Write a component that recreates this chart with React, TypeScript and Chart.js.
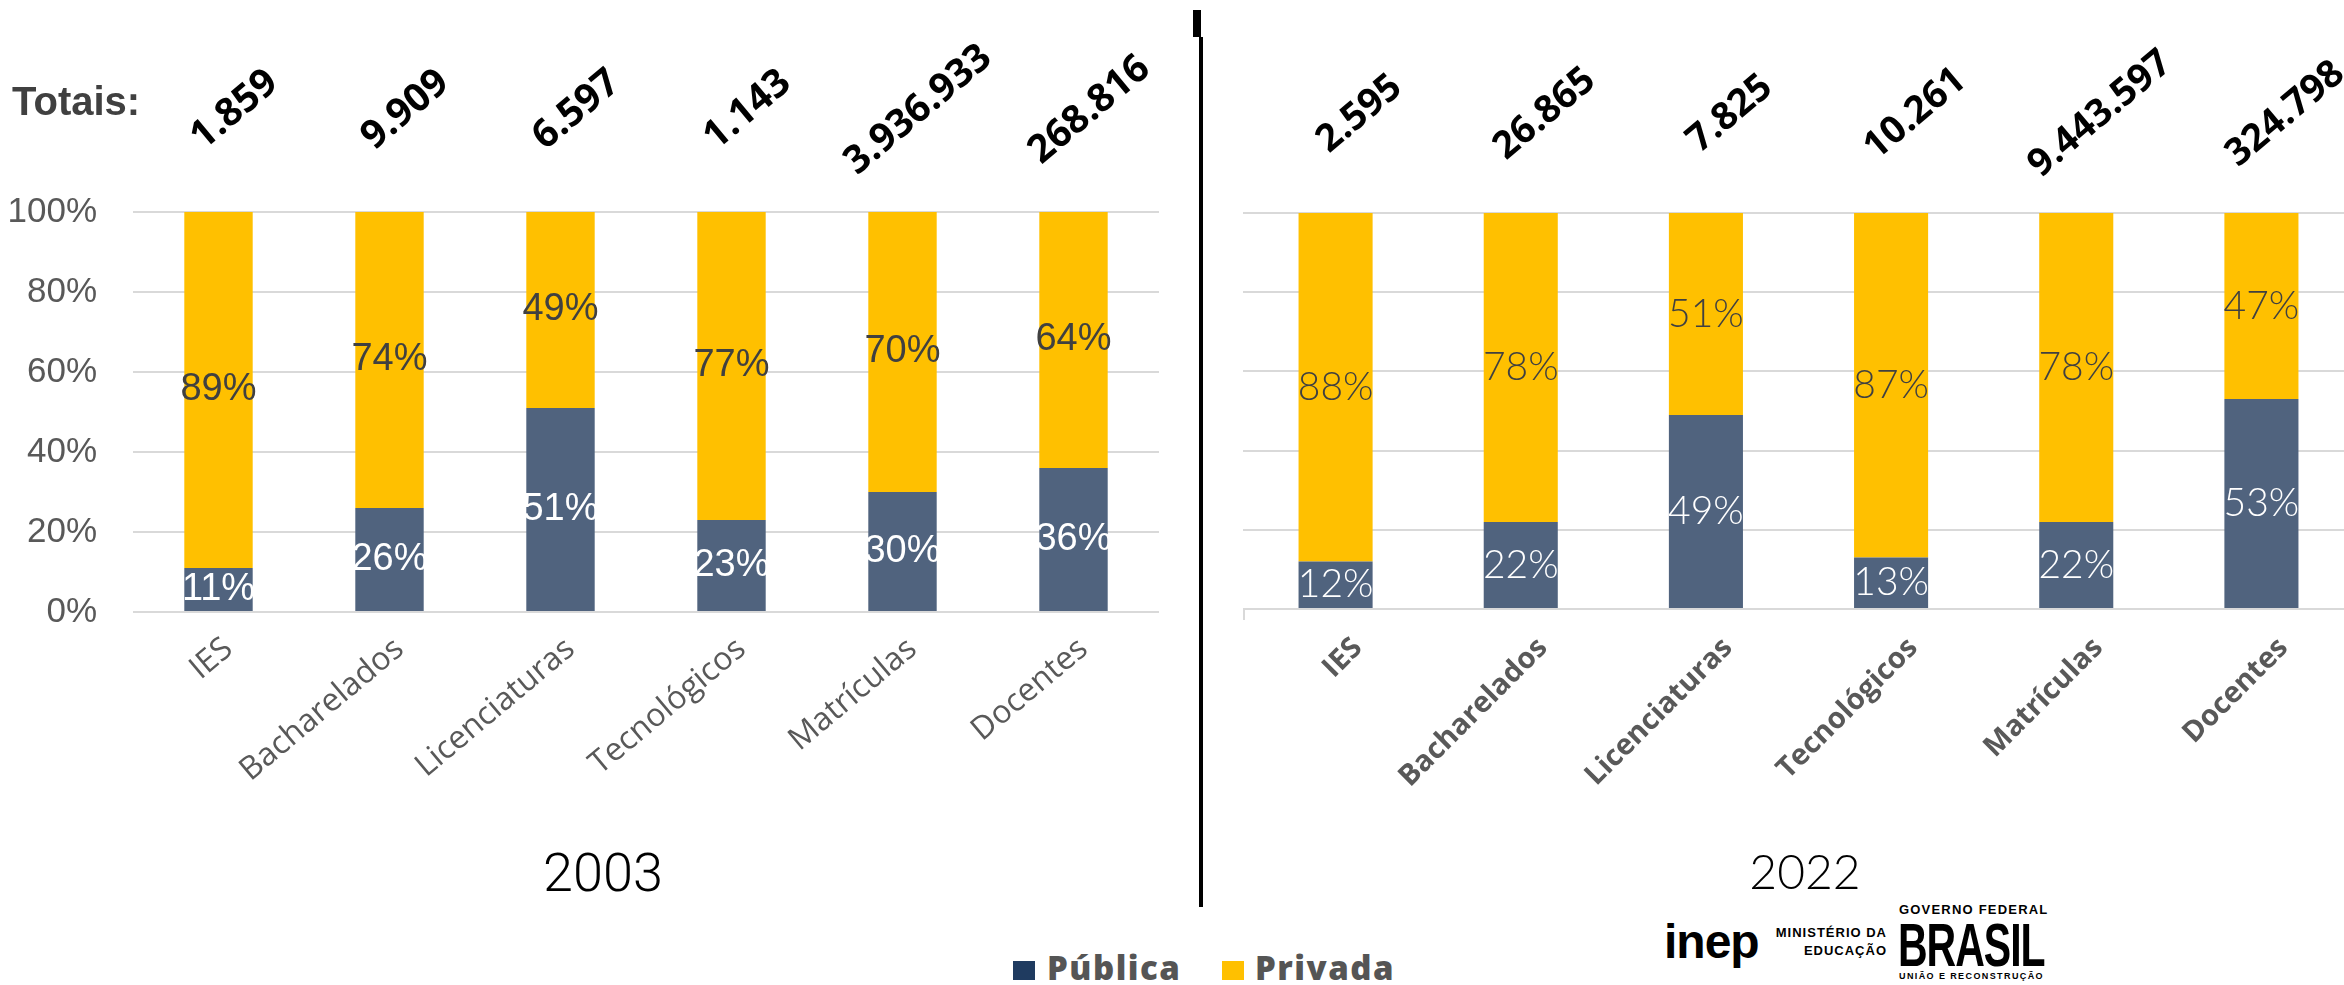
import React, { useEffect, useRef } from "react";
import { Chart, registerables } from "chart.js";

Chart.register(...registerables);

const categories = ["IES", "Bacharelados", "Licenciaturas", "Tecnológicos", "Matrículas", "Docentes"];
const publica2003 = [11, 26, 51, 23, 30, 36];
const privada2003 = [89, 74, 49, 77, 70, 64];
const totais2003 = ["1.859", "9.909", "6.597", "1.143", "3.936.933", "268.816"];
const publica2022 = [12, 22, 49, 13, 22, 53];
const privada2022 = [88, 78, 51, 87, 78, 47];
const totais2022 = ["2.595", "26.865", "7.825", "10.261", "9.443.597", "324.798"];
const seriesNames = ["Pública", "Privada"];
const yMax = 100;
const yStep = 20;

const COLOR_PUB = "#50637E";
const COLOR_PRIV = "#FFC000";
const GRID = "#d9d9d9";

type Cfg = {
  labelFont: string;
  totalFont: string;
  totals: string[];
  totalDx: number;
  totalY: number;
  totalAngle: number;
  cornerTick: boolean;
};

function makePlugin(cfg: Cfg) {
  return {
    id: "customLabels",
    afterDatasetsDraw(chart: any) {
      const ctx = chart.ctx;
      ctx.save();
      chart.data.datasets.forEach((ds: any, di: number) => {
        const meta = chart.getDatasetMeta(di);
        meta.data.forEach((el: any, i: number) => {
          const v = ds.data[i];
          const y = (el.y + el.base) / 2;
          ctx.font = cfg.labelFont;
          ctx.fillStyle = di === 0 ? "#ffffff" : "#404040";
          ctx.textAlign = "center";
          ctx.textBaseline = "middle";
          ctx.fillText(v + "%", el.x, y);
        });
      });
      const meta0 = chart.getDatasetMeta(0);
      meta0.data.forEach((el: any, i: number) => {
        ctx.save();
        ctx.translate(el.x + cfg.totalDx, cfg.totalY);
        ctx.rotate((-cfg.totalAngle * Math.PI) / 180);
        ctx.font = cfg.totalFont;
        ctx.fillStyle = "#000000";
        ctx.textAlign = "center";
        ctx.textBaseline = "middle";
        ctx.fillText(cfg.totals[i], 0, 0);
        ctx.restore();
      });
      if (cfg.cornerTick) {
        const a = chart.chartArea;
        ctx.strokeStyle = GRID;
        ctx.lineWidth = 2;
        ctx.beginPath();
        ctx.moveTo(a.left + 1, a.bottom);
        ctx.lineTo(a.left + 1, a.bottom + 11);
        ctx.stroke();
      }
      ctx.restore();
    },
  };
}

function buildChart(
  canvas: HTMLCanvasElement,
  pub: number[],
  priv: number[],
  opts: {
    height: number;
    top: number;
    bottom: number;
    right: number;
    yWidth: number;
    showY: boolean;
    xFont: any;
    xPadding: number;
    xLabelOffset: number;
    xRotation: number;
    cfg: Cfg;
  }
) {
  return new Chart(canvas, {
    type: "bar",
    data: {
      labels: categories,
      datasets: [
        { label: seriesNames[0], data: pub, backgroundColor: COLOR_PUB, categoryPercentage: 1, barPercentage: 0.4 },
        { label: seriesNames[1], data: priv, backgroundColor: COLOR_PRIV, categoryPercentage: 1, barPercentage: 0.4 },
      ],
    },
    options: {
      responsive: false,
      animation: false,
      devicePixelRatio: 1,
      layout: { padding: { top: opts.top, right: opts.right, bottom: 0, left: 0 } },
      plugins: { legend: { display: false }, tooltip: { enabled: false }, title: { display: false } },
      scales: {
        x: {
          stacked: true,
          grid: { display: false },
          border: { display: false },
          ticks: {
            autoSkip: false,
            maxRotation: opts.xRotation,
            minRotation: opts.xRotation,
            padding: opts.xPadding,
            labelOffset: opts.xLabelOffset,
            color: "#595959",
            font: opts.xFont,
          },
          afterFit: (s: any) => {
            s.height = opts.height - opts.bottom;
            s.paddingLeft = 0;
            s.paddingRight = 0;
          },
        },
        y: {
          stacked: true,
          min: 0,
          max: yMax,
          grid: { color: GRID, lineWidth: 2, drawTicks: false },
          border: { display: false },
          ticks: {
            display: opts.showY,
            stepSize: yStep,
            padding: 36,
            color: "#595959",
            font: { family: "'Liberation Sans Narrow', 'Liberation Sans', sans-serif", size: 35 },
            callback: (v: any) => v + "%",
          },
          afterFit: (s: any) => {
            s.width = opts.yWidth;
          },
        },
      },
    },
    plugins: [makePlugin(opts.cfg)],
  } as any);
}

export default function App() {
  const leftRef = useRef<HTMLCanvasElement>(null);
  const rightRef = useRef<HTMLCanvasElement>(null);

  useEffect(() => {
    const H = 900;
    const c1 = buildChart(leftRef.current!, publica2003, privada2003, {
      height: H,
      top: 212,
      bottom: 612,
      right: 31,
      yWidth: 133,
      showY: true,
      xFont: { family: "'Open Sans', sans-serif", size: 32 },
      xPadding: 10,
      xLabelOffset: 10,
      xRotation: 40,
      cfg: {
        labelFont: "38px 'Liberation Sans Narrow', 'Liberation Sans', sans-serif",
        totalFont: "700 39px 'Open Sans', sans-serif",
        totals: totais2003,
        totalDx: 16,
        totalY: 110,
        totalAngle: 40,
        cornerTick: false,
      },
    });
    const c2 = buildChart(rightRef.current!, publica2022, privada2022, {
      height: H,
      top: 213,
      bottom: 609,
      right: 0,
      yWidth: 40,
      showY: false,
      xFont: { family: "'Open Sans', sans-serif", size: 29, weight: "bold" },
      xPadding: 14,
      xLabelOffset: 22,
      xRotation: 45,
      cfg: {
        labelFont: "300 39px Lato, 'Open Sans', sans-serif",
        totalFont: "700 38px 'Open Sans', sans-serif",
        totals: totais2022,
        totalDx: 24,
        totalY: 114,
        totalAngle: 40,
        cornerTick: true,
      },
    });
    return () => {
      c1.destroy();
      c2.destroy();
    };
  }, []);

  const abs = (s: any): React.CSSProperties => ({ position: "absolute", whiteSpace: "nowrap", lineHeight: 1, ...s });

  return (
    <div
      style={{
        position: "fixed",
        left: 0,
        top: 0,
        width: 2344,
        height: 985,
        overflow: "hidden",
        background: "#ffffff",
      }}
    >
      <canvas ref={leftRef} width={1190} height={900} style={{ position: "absolute", left: 0, top: 0, width: 1190, height: 900 }} />
      <canvas ref={rightRef} width={1151} height={900} style={{ position: "absolute", left: 1203, top: 0, width: 1151, height: 900 }} />

      <div style={abs({ left: 12, top: 81, fontFamily: "'Liberation Sans Narrow', 'Liberation Sans', sans-serif", fontWeight: 700, fontSize: 40, color: "#404040" })}>
        Totais:
      </div>

      <div style={abs({ left: 403, width: 400, textAlign: "center", top: 846, fontFamily: "Roboto, sans-serif", fontWeight: 300, fontSize: 54, color: "#000" })}>
        2003
      </div>
      <div style={abs({ left: 1605, width: 400, textAlign: "center", top: 847, fontFamily: "Lato, sans-serif", fontWeight: 300, fontSize: 48, color: "#000" })}>
        2022
      </div>

      <div style={abs({ left: 1193, top: 10, width: 8, height: 27, background: "#000" })} />
      <div style={abs({ left: 1199, top: 37, width: 4, height: 870, background: "#000" })} />

      <div style={abs({ left: 1013, top: 961, width: 22, height: 19, background: "#1F3B60" })} />
      <div style={abs({ left: 1047, top: 951, fontFamily: "'Open Sans', sans-serif", fontWeight: 800, fontSize: 33, letterSpacing: 1.5, color: "#555555" })}>
        Pública
      </div>
      <div style={abs({ left: 1222, top: 961, width: 22, height: 19, background: COLOR_PRIV })} />
      <div style={abs({ left: 1255, top: 951, fontFamily: "'Open Sans', sans-serif", fontWeight: 800, fontSize: 33, letterSpacing: 1.5, color: "#555555" })}>
        Privada
      </div>

      <div style={abs({ left: 1664, top: 918, fontFamily: "'Liberation Sans', sans-serif", fontWeight: 900, fontSize: 48, letterSpacing: -1, color: "#000" })}>
        inep
      </div>
      <div style={abs({ left: 1760, width: 127, top: 924, textAlign: "right", fontFamily: "'Liberation Sans Narrow', sans-serif", fontWeight: 700, fontSize: 13, letterSpacing: 1, color: "#000", lineHeight: "18px" })}>
        MINISTÉRIO DA
        <br />
        EDUCAÇÃO
      </div>
      <div style={abs({ left: 1899, width: 144, top: 903, textAlign: "center", fontFamily: "'Liberation Sans Narrow', sans-serif", fontWeight: 700, fontSize: 13, letterSpacing: 1.2, color: "#000" })}>
        GOVERNO FEDERAL
      </div>
      <div
        style={abs({
          left: 1898,
          top: 915,
          fontFamily: "'Liberation Sans Narrow', sans-serif",
          fontWeight: 700,
          fontSize: 41,
          letterSpacing: -1,
          color: "#000",
          transform: "scaleY(1.5)",
          transformOrigin: "top left",
        })}
      >
        BRASIL
      </div>
      <div style={abs({ left: 1899, width: 144, top: 972, textAlign: "center", fontFamily: "'Liberation Sans Narrow', sans-serif", fontWeight: 700, fontSize: 9, letterSpacing: 1.4, color: "#000" })}>
        UNIÃO E RECONSTRUÇÃO
      </div>
    </div>
  );
}
